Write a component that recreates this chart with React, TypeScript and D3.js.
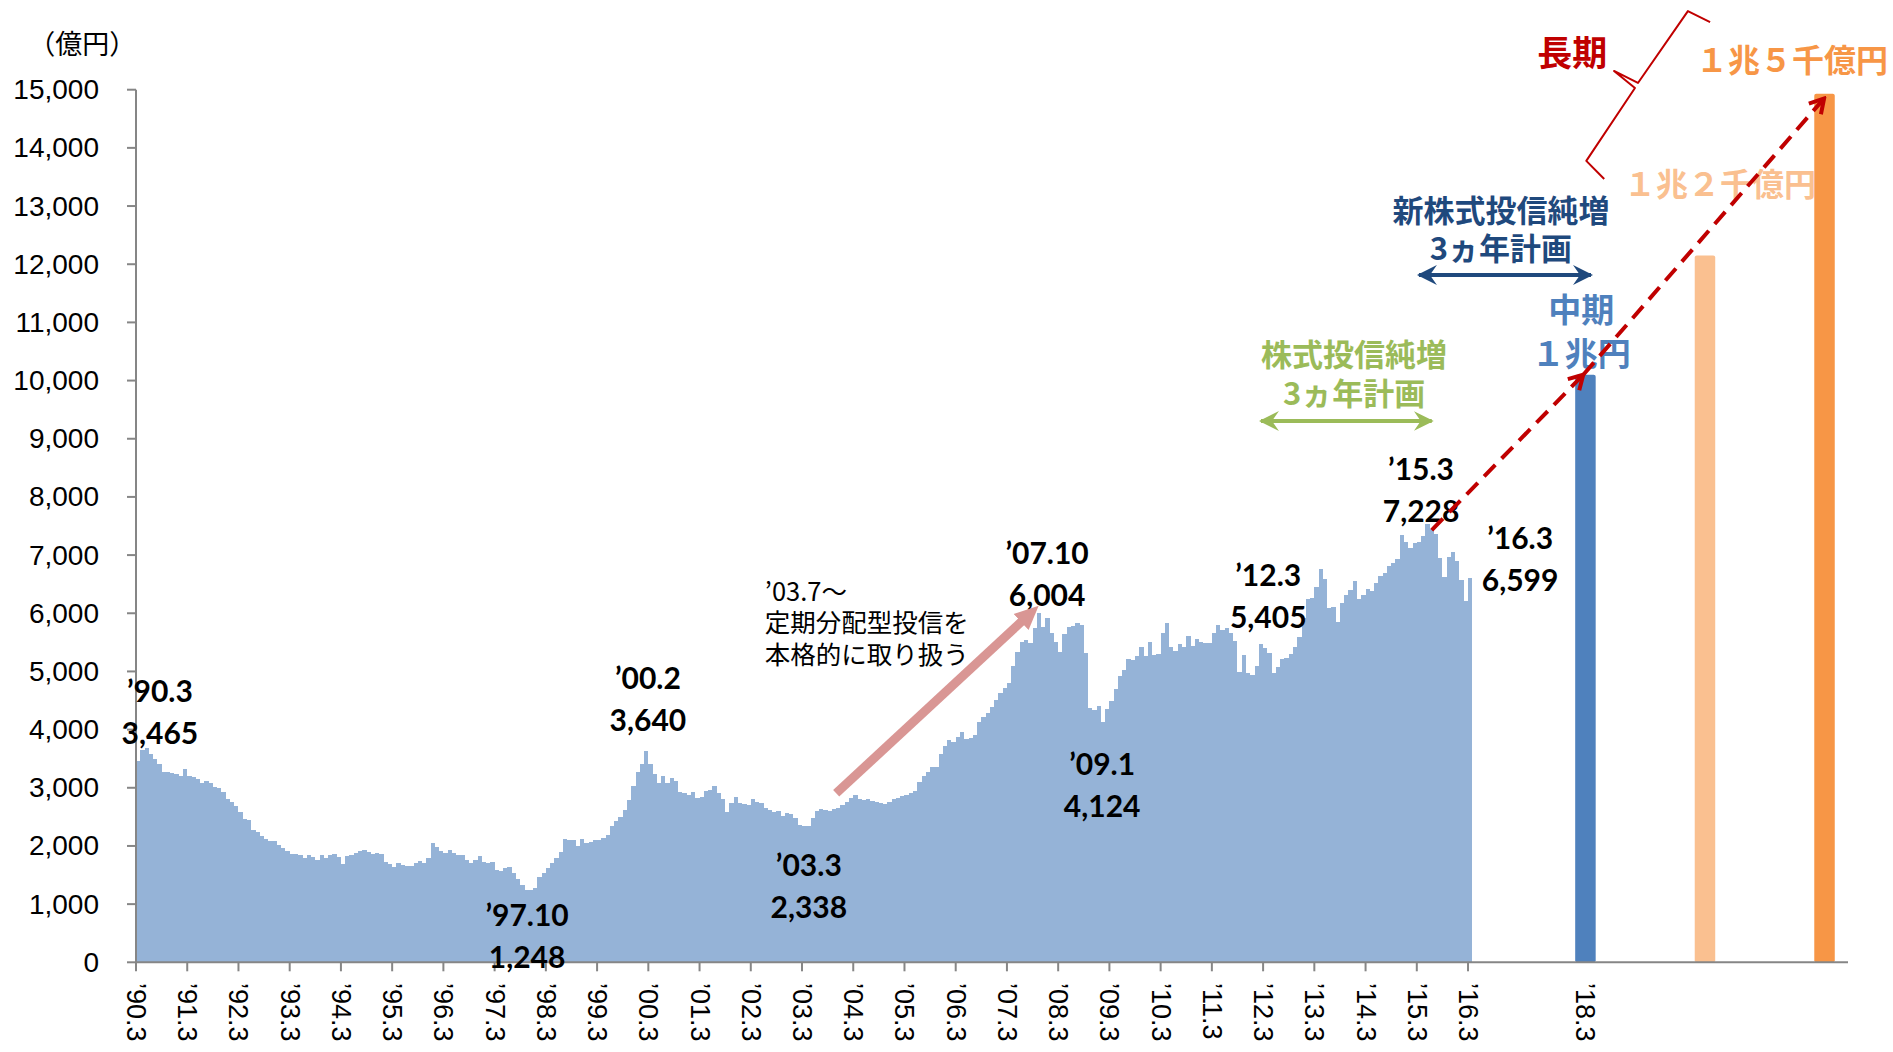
import React from "react";
import * as d3 from "d3";

// Monthly balance (億円), '90.3 .. '16.3
const monthlyValues: number[] = [
  3465, 3650, 3679, 3575, 3495, 3409, 3277, 3277, 3249, 3231, 3208, 3328,
  3208, 3186, 3157, 3077, 3117, 3077, 3019, 2996, 2922, 2802, 2750, 2682,
  2579, 2458, 2441, 2274, 2235, 2177, 2125, 2090, 2080, 2011, 1965, 1913,
  1857, 1857, 1845, 1798, 1839, 1811, 1759, 1839, 1788, 1839, 1857, 1811,
  1690, 1827, 1851, 1884, 1919, 1925, 1896, 1857, 1880, 1857, 1730, 1685,
  1638, 1702, 1673, 1661, 1655, 1713, 1742, 1707, 1793, 2056, 1987, 1913,
  1884, 1930, 1884, 1845, 1845, 1760, 1702, 1759, 1827, 1719, 1702, 1719,
  1587, 1565, 1627, 1644, 1530, 1427, 1329, 1248, 1243, 1272, 1472, 1541,
  1616, 1702, 1793, 1902, 2114, 2102, 2102, 2005, 2125, 2056, 2073, 2097,
  2108, 2131, 2194, 2343, 2424, 2493, 2618, 2790, 3031, 3277, 3404, 3640,
  3404, 3237, 3077, 3203, 3077, 3163, 3117, 2933, 2905, 2876, 2922, 2819,
  2848, 2950, 2962, 3025, 2916, 2802, 2590, 2745, 2836, 2733, 2722, 2704,
  2802, 2762, 2733, 2647, 2618, 2590, 2607, 2516, 2573, 2555, 2475, 2361,
  2338, 2344, 2475, 2601, 2630, 2618, 2601, 2630, 2659, 2704, 2762, 2819,
  2876, 2802, 2790, 2807, 2779, 2762, 2745, 2722, 2762, 2802, 2819, 2865,
  2876, 2905, 2950, 3105, 3203, 3277, 3352, 3364, 3581, 3724, 3822, 3782,
  3879, 3954, 3834, 3851, 3908, 4137, 4223, 4281, 4384, 4509, 4635, 4710,
  4796, 5094, 5340, 5512, 5540, 5484, 5742, 6004, 5759, 5914, 5656, 5512,
  5340, 5644, 5770, 5782, 5839, 5799, 5312, 4378, 4338, 4407, 4124, 4350,
  4498, 4693, 4930, 5030, 5209, 5197, 5266, 5426, 5266, 5501, 5283, 5300,
  5667, 5839, 5426, 5357, 5467, 5415, 5610, 5443, 5553, 5512, 5495, 5484,
  5656, 5799, 5713, 5742, 5667, 5524, 4985, 5283, 4979, 4939, 5099, 5472,
  5405, 5323, 4968, 5082, 5209, 5226, 5295, 5426, 5587, 5914, 6241, 6258,
  6458, 6757, 6585, 6086, 6103, 5856, 6183, 6315, 6401, 6561, 6246, 6315,
  6413, 6389, 6516, 6641, 6699, 6813, 6859, 6928, 7346, 7232, 7117, 7214,
  7228, 7334, 7535, 7444, 7363, 6946, 6619, 6973, 7048, 6899, 6572, 6217,
  6599,
];

const xTickLabels: string[] = [
  "’90.3", "’91.3", "’92.3", "’93.3", "’94.3", "’95.3", "’96.3", "’97.3", "’98.3",
  "’99.3", "’00.3", "’01.3", "’02.3", "’03.3", "’04.3", "’05.3", "’06.3", "’07.3",
  "’08.3", "’09.3", "’10.3", "’11.3", "’12.3", "’13.3", "’14.3", "’15.3", "’16.3",
];
const xTickCategories: number[] = xTickLabels.map((_, i) => i * 12);

const yTickValues: number[] = [0, 1000, 2000, 3000, 4000, 5000, 6000, 7000, 8000, 9000, 10000, 11000, 12000, 13000, 14000, 15000];
const yTickLabels: string[] = ["0", "1,000", "2,000", "3,000", "4,000", "5,000", "6,000", "7,000", "8,000", "9,000", "10,000", "11,000", "12,000", "13,000", "14,000", "15,000"];

// Target bars
const planCategories: number[] = [339, 367, 395];
const planValues: number[] = [10100, 12150, 14930];
const planLabels: string[] = ["’18.3", "", ""];
const planColors: string[] = ["#4F81BD", "#FAC090", "#F79646"];

// Peak / trough callouts
const calloutDates: string[] = ["’90.3", "’97.10", "’00.2", "’03.3", "’07.10", "’09.1", "’12.3", "’15.3", "’16.3"];
const calloutValues: string[] = ["3,465", "1,248", "3,640", "2,338", "6,004", "4,124", "5,405", "7,228", "6,599"];
const calloutCat: number[] = [5.6, 91.6, 119.9, 157.6, 213.4, 226.3, 265.2, 301.0, 324.2];
const calloutLevel: number[] = [4681, 830, 4905, 1690, 7053, 3426, 6675, 8497, 7311];

export default function App() {
  const W = 1893;
  const H = 1052;
  const x = d3.scaleLinear().domain([0, 401]).range([136, 1848]);
  const y = d3.scaleLinear().domain([0, 15000]).range([962.3, 89.7]);
  const y0 = y(0);

  const area = d3
    .area<number>()
    .x((_, i) => x(i))
    .y0(y0)
    .y1((d) => y(d))
    .curve(d3.curveStepAfter);
  const areaPath = area([...monthlyValues, monthlyValues[monthlyValues.length - 1]]) || "";

  const line = d3
    .line<[number, number]>()
    .x((d) => x(d[0]))
    .y((d) => y(d[1]));

  const barW = 4.8;
  const lblFont = "Lato, 'Noto Sans', sans-serif";
  const cjk = "'Noto Sans CJK JP', sans-serif";
  const axisFont = "'Liberation Sans', Arial, sans-serif";

  // annotation geometry in data coordinates
  const redArrow1: [number, number][] = [[303.5, 7430], [339, 10100]];
  const redArrow2: [number, number][] = [[339, 10100], [395.4, 14850]];
  const pinkArrow: [number, number][] = [[164, 2905], [208, 5896]];
  const greenArrow: [number, number][] = [[263.5, 9305], [303.5, 9305]];
  const navyArrow: [number, number][] = [[300.5, 11815], [340.8, 11815]];
  const brace: [number, number][] = [
    [368.7, 16162], [363.5, 16351], [351.8, 15116], [346.2, 15322],
    [351.1, 15030], [339.7, 13776], [343.9, 13466],
  ];

  return (
    <svg
      width={W}
      height={H}
      viewBox={`0 0 ${W} ${H}`}
      style={{ position: "absolute", left: 0, top: 0, background: "#fff" }}
    >
      <defs>
        <marker id="redHead" viewBox="0 0 20 20" refX="17" refY="10" markerWidth="20" markerHeight="20" markerUnits="userSpaceOnUse" orient="auto">
          <path d="M3,2 L17,10 L3,18" fill="none" stroke="#C00000" strokeWidth="4" />
        </marker>
        <marker id="pinkHead" viewBox="0 0 24 24" refX="4" refY="12" markerWidth="24" markerHeight="24" markerUnits="userSpaceOnUse" orient="auto">
          <path d="M0,1 L24,12 L0,23 Z" fill="#D99694" />
        </marker>
        <marker id="greenHead" viewBox="0 0 20 20" refX="18" refY="10" markerWidth="20" markerHeight="20" markerUnits="userSpaceOnUse" orient="auto-start-reverse">
          <path d="M0,0 L20,10 L0,20 L7,10 Z" fill="#9BBB59" />
        </marker>
        <marker id="navyHead" viewBox="0 0 20 20" refX="18" refY="10" markerWidth="20" markerHeight="20" markerUnits="userSpaceOnUse" orient="auto-start-reverse">
          <path d="M0,0 L20,10 L0,20 L7,10 Z" fill="#1F497D" />
        </marker>
      </defs>

      {/* area of monthly balances */}
      <path d={areaPath} fill="#95B3D7" shapeRendering="crispEdges" />

      {/* plan bars */}
      {planCategories.map((c, i) => (
        <rect
          key={"pb" + i}
          x={x(c + 0.5 - barW / 2)}
          y={y(planValues[i])}
          width={x(c + 0.5 + barW / 2) - x(c + 0.5 - barW / 2)}
          height={y0 - y(planValues[i])}
          fill={planColors[i]}
          rx={2}
        />
      ))}

      {/* axes */}
      <line x1={x(0)} x2={x(0)} y1={y(15000)} y2={y0} stroke="#868686" strokeWidth={2} />
      {yTickValues.map((v, i) => (
        <g key={"yt" + i}>
          <line x1={x(0) - 9} x2={x(0)} y1={y(v)} y2={y(v)} stroke="#868686" strokeWidth={2} />
          <text x={99} y={y(v)} textAnchor="end" dominantBaseline="central" fontFamily={axisFont} fontSize={28} fill="#000">
            {yTickLabels[i]}
          </text>
        </g>
      ))}
      <line x1={x(0)} x2={x(401)} y1={y0} y2={y0} stroke="#868686" strokeWidth={2} />
      {xTickCategories.map((c, i) => (
        <g key={"xt" + i}>
          <line x1={x(c)} x2={x(c)} y1={y0} y2={y0 + 9} stroke="#868686" strokeWidth={2} />
          <text
            transform={`translate(${x(c)},983) rotate(90)`}
            dominantBaseline="central"
            fontFamily={axisFont}
            fontSize={27}
            fill="#000"
          >
            {xTickLabels[i]}
          </text>
        </g>
      ))}
      {planCategories.map((c, i) =>
        planLabels[i] ? (
          <text
            key={"pl" + i}
            transform={`translate(${x(c + 0.5)},983) rotate(90)`}
            dominantBaseline="central"
            fontFamily={axisFont}
            fontSize={27}
            fill="#000"
          >
            {planLabels[i]}
          </text>
        ) : null
      )}

      {/* unit */}
      <text x={x(-12.6)} y={y(15803)} textAnchor="middle" dominantBaseline="central" fontFamily={cjk} fontSize={27} fill="#000">
        （億円）
      </text>

      {/* callouts */}
      {calloutDates.map((d, i) => (
        <g key={"co" + i} fontFamily={lblFont} fontWeight={700} fontSize={30} fill="#000" textAnchor="middle">
          <text x={x(calloutCat[i])} y={y(calloutLevel[i])} dominantBaseline="central">{d}</text>
          <text x={x(calloutCat[i])} y={y(calloutLevel[i]) + 42} dominantBaseline="central">{calloutValues[i]}</text>
        </g>
      ))}

      {/* pink arrow and note */}
      <path d={line(pinkArrow) || ""} stroke="#D99694" strokeWidth={9} fill="none" markerEnd="url(#pinkHead)" />
      <g fontFamily={cjk} fontSize={25.5} fill="#000">
        <text x={x(147.3)} y={y(6400)} dominantBaseline="central">’03.7～</text>
        <text x={x(147.3)} y={y(5867)} dominantBaseline="central">定期分配型投信を</text>
        <text x={x(147.3)} y={y(5334)} dominantBaseline="central">本格的に取り扱う</text>
      </g>

      {/* plan arrows */}
      <path d={line(greenArrow) || ""} stroke="#9BBB59" strokeWidth={4} fill="none" markerStart="url(#greenHead)" markerEnd="url(#greenHead)" />
      <g fontFamily={cjk} fontWeight={700} fontSize={31} fill="#9BBB59" textAnchor="middle">
        <text x={x(285.3)} y={y(10490)} dominantBaseline="central">株式投信純増</text>
        <text x={x(285.3)} y={y(9820)} dominantBaseline="central">3ヵ年計画</text>
      </g>
      <path d={line(navyArrow) || ""} stroke="#1F497D" strokeWidth={4} fill="none" markerStart="url(#navyHead)" markerEnd="url(#navyHead)" />
      <g fontFamily={cjk} fontWeight={700} fontSize={31} fill="#1F497D" textAnchor="middle">
        <text x={x(319.7)} y={y(12950)} dominantBaseline="central">新株式投信純増</text>
        <text x={x(319.7)} y={y(12300)} dominantBaseline="central">3ヵ年計画</text>
      </g>

      {/* medium-term */}
      <g fontFamily={cjk} fontWeight={700} fontSize={33} fill="#4F81BD" textAnchor="middle">
        <text x={x(338.5)} y={y(11250)} dominantBaseline="central">中期</text>
        <text x={x(338.5)} y={y(10490)} dominantBaseline="central">１兆円</text>
      </g>

      {/* long-term */}
      <text x={x(336.4)} y={y(15666)} textAnchor="middle" dominantBaseline="central" fontFamily={cjk} fontWeight={700} fontSize={35} fill="#C00000">
        長期
      </text>
      <path d={line(brace) || ""} stroke="#C00000" strokeWidth={2} fill="none" strokeLinejoin="round" />
      <text x={x(387.9)} y={y(15545)} textAnchor="middle" dominantBaseline="central" fontFamily={cjk} fontWeight={700} fontSize={32} fill="#F79646">
        １兆５千億円
      </text>
      <text x={x(371.0)} y={y(13413)} textAnchor="middle" dominantBaseline="central" fontFamily={cjk} fontWeight={700} fontSize={32} fill="#FAC090">
        １兆２千億円
      </text>

      {/* red dashed arrows */}
      <path d={line(redArrow1) || ""} stroke="#C00000" strokeWidth={4} strokeDasharray="16,9" fill="none" markerEnd="url(#redHead)" />
      <path d={line(redArrow2) || ""} stroke="#C00000" strokeWidth={4} strokeDasharray="16,9" fill="none" markerEnd="url(#redHead)" />
    </svg>
  );
}
